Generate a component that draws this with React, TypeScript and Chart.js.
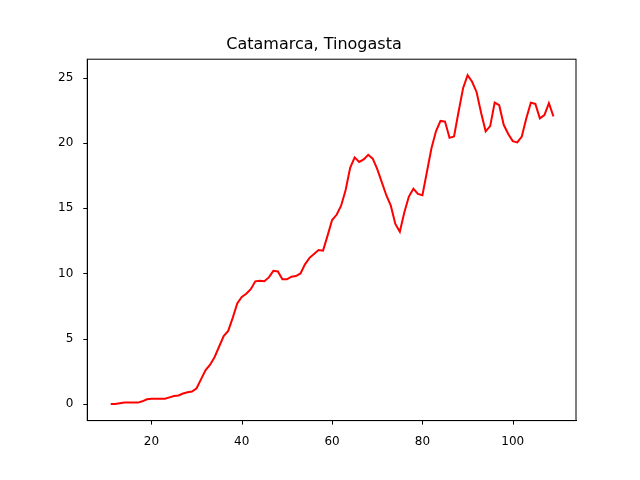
import React, { useEffect, useRef } from 'react'
import Chart from 'chart.js/auto'

const years = Array.from({ length: 99 }, (_, i) => i + 11)
const cases = [
  0.0, 0.0, 0.05, 0.1, 0.1, 0.1, 0.1, 0.2, 0.35, 0.4,
  0.4, 0.4, 0.4, 0.5, 0.6, 0.65, 0.8, 0.9, 0.95, 1.2,
  1.9, 2.6, 3.0, 3.6, 4.4, 5.2, 5.6, 6.6, 7.7, 8.2,
  8.45, 8.8, 9.4, 9.45, 9.4, 9.7, 10.2, 10.15, 9.55, 9.55,
  9.75, 9.8, 10.0, 10.7, 11.2, 11.5, 11.8, 11.75, 12.9, 14.1,
  14.5, 15.2, 16.4, 18.1, 18.9, 18.55, 18.75, 19.1, 18.8, 18.0,
  17.0, 16.0, 15.2, 13.8, 13.2, 14.7, 15.9, 16.5, 16.1, 16.0,
  17.8, 19.6, 20.9, 21.7, 21.65, 20.4, 20.5, 22.4, 24.2, 25.2,
  24.7, 23.9, 22.3, 20.9, 21.3, 23.1, 22.9, 21.4, 20.7, 20.15,
  20.05, 20.5, 21.9, 23.1, 23.0, 21.9, 22.15, 23.05, 22.05,
]
const xTicks = [20, 40, 60, 80, 100]
const yTicks = [0, 5, 10, 15, 20, 25]

const App = () => {
  const chartRef = useRef<HTMLCanvasElement>(null)

  useEffect(() => {
    if (!chartRef.current) return
    const font = { family: 'DejaVu Sans', size: 12 }
    const chart = new Chart(chartRef.current, {
      type: 'line',
      data: {
        datasets: [
          {
            data: years.map((x, i) => ({ x, y: cases[i] })),
            borderColor: '#ff0000',
            borderWidth: 2,
            pointRadius: 0,
            tension: 0,
          },
        ],
      },
      options: {
        animation: false,
        responsive: false,
        layout: { padding: { left: 52, right: 64, top: 0, bottom: 25 } },
        plugins: {
          legend: { display: false },
          tooltip: { enabled: false },
          title: {
            display: true,
            text: 'Catamarca, Tinogasta',
            color: '#000',
            font: { family: 'DejaVu Sans', size: 16, weight: 'normal' },
            padding: { top: 35, bottom: 5 },
          },
        },
        scales: {
          x: {
            type: 'linear',
            min: 5.8,
            max: 114,
            afterBuildTicks: (axis: any) => {
              axis.ticks = xTicks.map((v) => ({ value: v }))
            },
            grid: { display: false },
            border: { color: '#000' },
            ticks: { color: '#000', font, padding: 6, maxRotation: 0 },
          },
          y: {
            min: -1.28,
            max: 26.43,
            afterBuildTicks: (axis: any) => {
              axis.ticks = yTicks.map((v) => ({ value: v }))
            },
            grid: { display: false },
            border: { color: '#000' },
            ticks: { color: '#000', font, padding: 6 },
          },
        },
      },
      plugins: [
        {
          id: 'frame',
          afterDraw: (c: any) => {
            const { ctx, chartArea: a, scales } = c
            ctx.save()
            ctx.strokeStyle = '#000'
            ctx.lineWidth = 1
            ctx.strokeRect(a.left, a.top, a.right - a.left, a.bottom - a.top)
            ctx.beginPath()
            xTicks.forEach((v) => {
              const px = Math.round(scales.x.getPixelForValue(v)) + 0.5
              ctx.moveTo(px, a.bottom)
              ctx.lineTo(px, a.bottom + 4)
            })
            yTicks.forEach((v) => {
              const py = Math.round(scales.y.getPixelForValue(v)) + 0.5
              ctx.moveTo(a.left, py)
              ctx.lineTo(a.left - 4, py)
            })
            ctx.stroke()
            ctx.restore()
          },
        },
      ],
    })
    return () => chart.destroy()
  }, [])

  return (
    <div style={{ position: 'absolute', left: 0, top: 0, width: 640, height: 480, background: '#fff' }}>
      <canvas ref={chartRef} width={640} height={480}></canvas>
    </div>
  )
}

export default App
